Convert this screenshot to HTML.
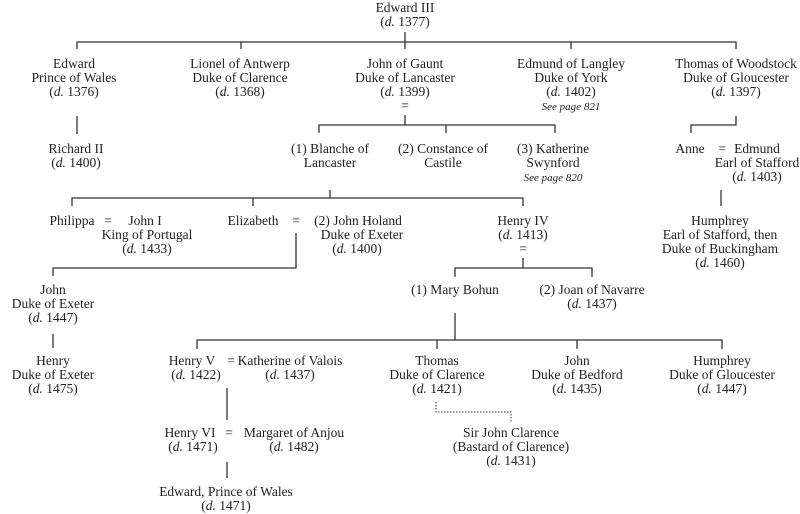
<!DOCTYPE html>
<html><head><meta charset="utf-8"><style>
html,body{margin:0;padding:0;background:#fff}
svg{display:block}
text{font-family:"Liberation Serif",serif;font-size:13.5px;fill:#222;text-anchor:middle}
.s{font-size:11px;font-style:italic}
line,path{stroke:#333;stroke-width:1.3;fill:none}
</style></head><body>
<svg width="800" height="514" viewBox="0 0 800 514" xmlns="http://www.w3.org/2000/svg">
<path d="M405 32V42M77 49V42H736V49M241 42V49M405 42V49M571 42V49"/>
<path d="M405 115V125M319 133V125H555V133M446 125V133"/>
<path d="M77 116V134"/>
<path d="M736 116V125H691V133"/>
<path d="M721 190V206"/>
<path d="M330 190V198M72 206V198H523V206M253 198V206"/>
<path d="M296 233V268H53V276"/>
<path d="M53 334V348"/>
<path d="M523 258V268M455 277V268H592V277"/>
<path d="M455 313V340M197 349V340H722V349M437 340V349M577 340V349"/>
<path d="M227 388V420M227 462V478"/>
<path d="M436 402V412H511V423" style="stroke-dasharray:1.5 1.5;stroke-width:1"/>
<text x="405" y="12">Edward III</text><text x="405" y="26">(<tspan font-style="italic">d.</tspan> 1377)</text>
<text x="74" y="68">Edward</text><text x="74" y="82">Prince of Wales</text><text x="74" y="96">(<tspan font-style="italic">d.</tspan> 1376)</text>
<text x="240" y="68">Lionel of Antwerp</text><text x="240" y="82">Duke of Clarence</text><text x="240" y="96">(<tspan font-style="italic">d.</tspan> 1368)</text>
<text x="405" y="68">John of Gaunt</text><text x="405" y="82">Duke of Lancaster</text><text x="405" y="96">(<tspan font-style="italic">d.</tspan> 1399)</text><text x="405" y="110">=</text>
<text x="571" y="68">Edmund of Langley</text><text x="571" y="82">Duke of York</text><text x="571" y="96">(<tspan font-style="italic">d.</tspan> 1402)</text><text class="s" x="571" y="110">See page 821</text>
<text x="736" y="68">Thomas of Woodstock</text><text x="736" y="82">Duke of Gloucester</text><text x="736" y="96">(<tspan font-style="italic">d.</tspan> 1397)</text>
<text x="76" y="153">Richard II</text><text x="76" y="167">(<tspan font-style="italic">d.</tspan> 1400)</text>
<text x="330" y="153">(1) Blanche of</text><text x="330" y="167">Lancaster</text>
<text x="443" y="153">(2) Constance of</text><text x="443" y="167">Castile</text>
<text x="553" y="153">(3) Katherine</text><text x="553" y="167">Swynford</text><text class="s" x="553" y="181">See page 820</text>
<text x="690" y="153">Anne</text><text x="722" y="153">=</text><text x="757" y="153">Edmund</text><text x="757" y="167">Earl of Stafford</text><text x="757" y="181">(<tspan font-style="italic">d.</tspan> 1403)</text>
<text x="72" y="225">Philippa</text><text x="108" y="225">=</text><text x="145" y="225">John I</text><text x="147" y="239">King of Portugal</text><text x="147" y="253">(<tspan font-style="italic">d.</tspan> 1433)</text>
<text x="253" y="225">Elizabeth</text><text x="296" y="225">=</text><text x="358" y="225">(2) John Holand</text><text x="362" y="239">Duke of Exeter</text><text x="357" y="253">(<tspan font-style="italic">d.</tspan> 1400)</text>
<text x="523" y="225">Henry IV</text><text x="523" y="239">(<tspan font-style="italic">d.</tspan> 1413)</text><text x="523" y="253">=</text>
<text x="720" y="225">Humphrey</text><text x="720" y="239">Earl of Stafford, then</text><text x="720" y="253">Duke of Buckingham</text><text x="720" y="267">(<tspan font-style="italic">d.</tspan> 1460)</text>
<text x="53" y="294">John</text><text x="53" y="308">Duke of Exeter</text><text x="53" y="322">(<tspan font-style="italic">d.</tspan> 1447)</text>
<text x="455" y="294">(1) Mary Bohun</text>
<text x="592" y="294">(2) Joan of Navarre</text><text x="592" y="308">(<tspan font-style="italic">d.</tspan> 1437)</text>
<text x="53" y="365">Henry</text><text x="53" y="379">Duke of Exeter</text><text x="53" y="393">(<tspan font-style="italic">d.</tspan> 1475)</text>
<text x="192" y="365">Henry V</text><text x="231" y="365">=</text><text x="290" y="365">Katherine of Valois</text><text x="196" y="379">(<tspan font-style="italic">d.</tspan> 1422)</text><text x="290" y="379">(<tspan font-style="italic">d.</tspan> 1437)</text>
<text x="437" y="365">Thomas</text><text x="437" y="379">Duke of Clarence</text><text x="437" y="393">(<tspan font-style="italic">d.</tspan> 1421)</text>
<text x="577" y="365">John</text><text x="577" y="379">Duke of Bedford</text><text x="577" y="393">(<tspan font-style="italic">d.</tspan> 1435)</text>
<text x="722" y="365">Humphrey</text><text x="722" y="379">Duke of Gloucester</text><text x="722" y="393">(<tspan font-style="italic">d.</tspan> 1447)</text>
<text x="190" y="437">Henry VI</text><text x="229" y="437">=</text><text x="294" y="437">Margaret of Anjou</text><text x="193" y="451">(<tspan font-style="italic">d.</tspan> 1471)</text><text x="294" y="451">(<tspan font-style="italic">d.</tspan> 1482)</text>
<text x="511" y="437">Sir John Clarence</text><text x="511" y="451">(Bastard of Clarence)</text><text x="511" y="465">(<tspan font-style="italic">d.</tspan> 1431)</text>
<text x="226" y="496">Edward, Prince of Wales</text><text x="226" y="510">(<tspan font-style="italic">d.</tspan> 1471)</text>
</svg>
</body></html>
